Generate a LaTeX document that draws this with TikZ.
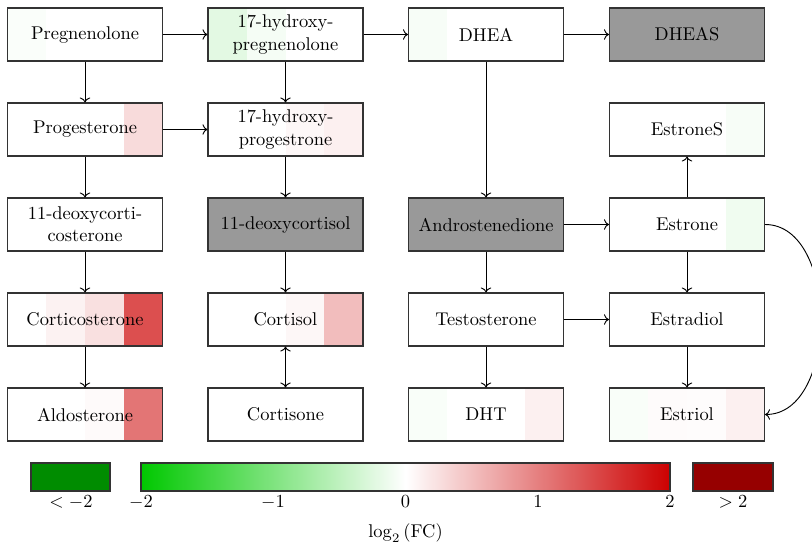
\documentclass[tikz,border=0pt]{standalone}
\usetikzlibrary{arrows.meta}

% colour scale of log2 fold changes
\definecolor{hired}{RGB}{204,0,0}
\definecolor{higreen}{RGB}{0,200,0}
\definecolor{undercol}{RGB}{0,140,0}
\definecolor{overcol}{RGB}{150,0,0}
\definecolor{nacol}{RGB}{153,153,153}

\tikzset{
  mbox/.style={draw=black!80, line width=0.6pt, minimum width=84pt,
    minimum height=28.7pt, inner sep=0pt, align=center, font=\normalsize},
  arr/.style={->, line width=0.5pt},
  barframe/.style={draw=black!80, line width=0.6pt},
  ticklab/.style={inner sep=1pt}
}

% metabolite box with four heat cells: name, centre, label, cell colours
\newcommand{\metab}[7]{%
  \begin{scope}[shift={#2}]
    \fill[#4] (-77.5,-26.5) rectangle (-38.75,26.5);
    \fill[#5] (-38.75,-26.5) rectangle (0,26.5);
    \fill[#6] (0,-26.5) rectangle (38.75,26.5);
    \fill[#7] (38.75,-26.5) rectangle (77.5,26.5);
  \end{scope}
  \node[mbox] (#1) at #2 {#3};
}

\begin{document}
\begin{tikzpicture}[x=0.542pt, y=-0.542pt]
\useasboundingbox (0,0) rectangle (812,548);

% row 1
\metab{preg}{(85,34.5)}{Pregnenolone}{higreen!2!white}{white}{white}{white}
\metab{ohpreg}{(285.5,34.5)}{17-hydroxy-\\pregnenolone}{higreen!11!white}{higreen!4!white}{white}{white}
\metab{dhea}{(486,34.5)}{DHEA}{higreen!3!white}{white}{white}{white}
\metab{dheas}{(687,34.5)}{DHEAS}{nacol}{nacol}{nacol}{nacol}

% row 2
\metab{prog}{(85,129.5)}{Progesterone}{white}{white}{white}{hired!14!white}
\metab{ohprog}{(285.5,129.5)}{17-hydroxy-\\progestrone}{white}{white}{hired!3!white}{hired!6!white}
\metab{estrones}{(687,129.5)}{EstroneS}{white}{white}{white}{higreen!3!white}

% row 3
\metab{doc}{(85,224.5)}{11-deoxycorti-\\costerone}{white}{white}{white}{white}
\metab{dcort}{(285.5,224.5)}{11-deoxycortisol}{nacol}{nacol}{nacol}{nacol}
\metab{andro}{(486,224.5)}{Androstenedione}{nacol}{nacol}{nacol}{nacol}
\metab{estrone}{(687,224.5)}{Estrone}{white}{white}{white}{higreen!6!white}

% row 4
\metab{cortico}{(85,319.5)}{Corticosterone}{white}{hired!5!white}{hired!12!white}{hired!69!white}
\metab{cortisol}{(285.5,319.5)}{Cortisol}{white}{white}{hired!3!white}{hired!26!white}
\metab{testo}{(486,319.5)}{Testosterone}{white}{white}{white}{white}
\metab{estradiol}{(687,319.5)}{Estradiol}{white}{white}{white}{white}

% row 5
\metab{aldo}{(85,414.5)}{Aldosterone}{white}{white}{hired!2!white}{hired!54!white}
\metab{cortisone}{(285.5,414.5)}{Cortisone}{white}{white}{white}{white}
\metab{dht}{(486,414.5)}{DHT}{higreen!2.5!white}{white}{white}{hired!6!white}
\metab{estriol}{(687,414.5)}{Estriol}{higreen!2.5!white}{hired!1.5!white}{hired!1!white}{hired!6!white}

% reactions
\draw[arr] (preg) -- (ohpreg);
\draw[arr] (ohpreg) -- (dhea);
\draw[arr] (dhea) -- (dheas);
\draw[arr] (preg) -- (prog);
\draw[arr] (ohpreg) -- (ohprog);
\draw[arr] (dhea) -- (andro);
\draw[arr] (prog) -- (ohprog);
\draw[arr] (prog) -- (doc);
\draw[arr] (ohprog) -- (dcort);
\draw[arr] (andro) -- (estrone);
\draw[arr] (estrone) -- (estrones);
\draw[arr] (doc) -- (cortico);
\draw[arr] (dcort) -- (cortisol);
\draw[arr] (andro) -- (testo);
\draw[arr] (estrone) -- (estradiol);
\draw[arr] (cortico) -- (aldo);
\draw[arr, <->] (cortisol) -- (cortisone);
\draw[arr] (testo) -- (estradiol);
\draw[arr] (testo) -- (dht);
\draw[arr] (estradiol) -- (estriol);
\draw[arr] (estrone.east) to[out=0, in=0] (estriol.east);

% colour bar
\fill[undercol] (31,463) rectangle (110,491);
\draw[barframe] (31,463) rectangle (110,491);
\shade[left color=higreen, right color=hired, middle color=white] (141,463) rectangle (670,491);
\draw[barframe] (141,463) rectangle (670,491);
\fill[overcol] (693,463) rectangle (773,491);
\draw[barframe] (693,463) rectangle (773,491);

\node[ticklab] (lunder) at (71,502) {$<-2$};
\node[ticklab] (lm2) at (141,502) {$-2$};
\node[ticklab] (lm1) at (273,502) {$-1$};
\node[ticklab] (lz) at (405.5,502) {$0$};
\node[ticklab] (lp1) at (538,502) {$1$};
\node[ticklab] (lp2) at (670,502) {$2$};
\node[ticklab] (lover) at (733,502) {$>2$};
\node[ticklab] (axlab) at (405.5,533) {$\log_2$\,(FC)};
\end{tikzpicture}
\end{document}
